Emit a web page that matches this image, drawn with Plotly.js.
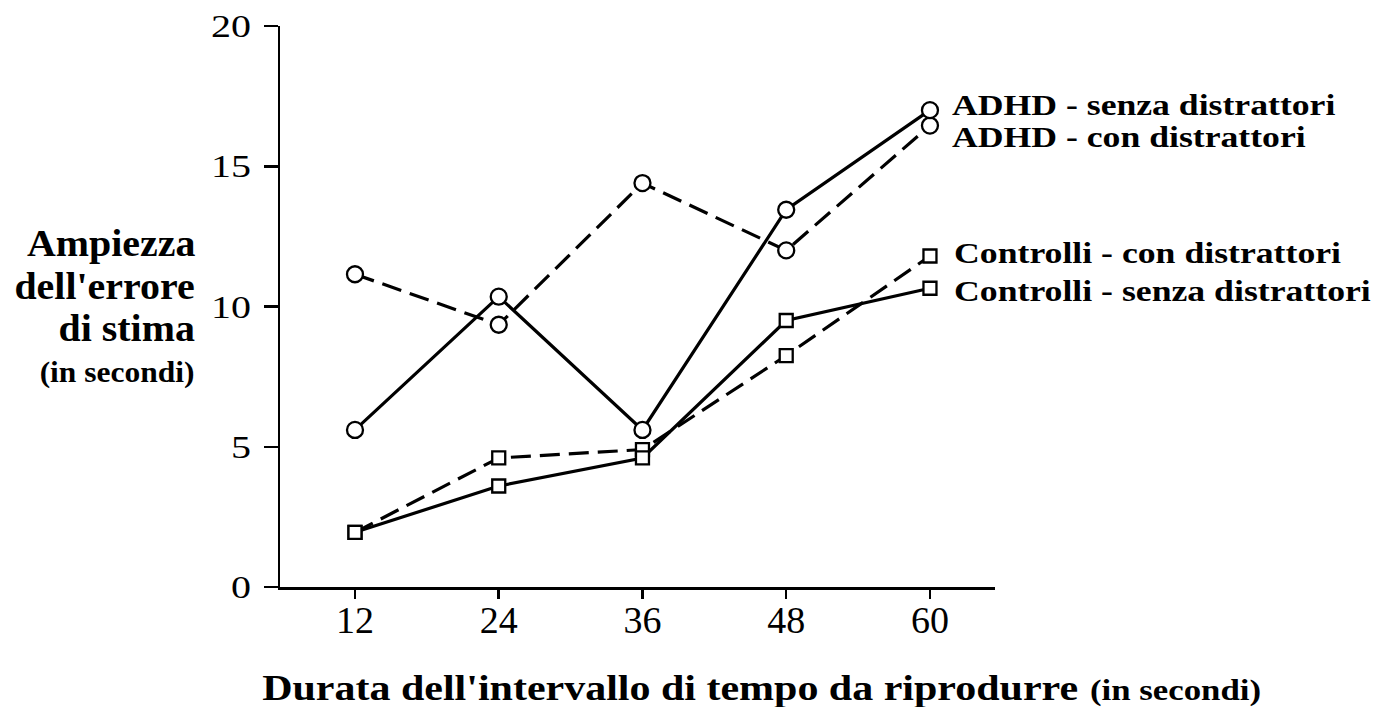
<!DOCTYPE html>
<html>
<head>
<meta charset="utf-8">
<script src="https://cdn.plot.ly/plotly-3.0.1.min.js"></script>
<style>html,body{margin:0;padding:0;background:#fff;}#chart{width:1383px;height:707px;}</style>
</head>
<body>
<div id="chart"></div>
<script>
const durations = [12, 24, 36, 48, 60];
const adhdSenza = [5.6, 10.35, 5.6, 13.45, 17.0];
const adhdCon = [11.15, 9.35, 14.4, 12.0, 16.45];
const ctrlCon = [1.95, 4.6, 4.9, 8.25, 11.8];
const ctrlSenza = [1.95, 3.6, 4.6, 9.5, 10.65];
const seriesNames = ["ADHD - senza distrattori", "ADHD - con distrattori", "Controlli - con distrattori", "Controlli - senza distrattori"];
const yTitleLines = ["Ampiezza", "dell'errore", "di stima"];
const yTitleUnit = "(in secondi)";
const xTitleMain = "Durata dell'intervallo di tempo da riprodurre";
const xTitleUnit = "(in secondi)";

const serif = "Liberation Serif, Times New Roman, serif";
function trace(y, name, dash, symbol, size) {
  return {
    x: durations, y: y, name: name, type: "scatter", mode: "lines+markers",
    line: {color: "#000", width: 3.2, dash: dash},
    marker: {symbol: symbol, size: size, color: "#fff", line: {color: "#000", width: 2.3}},
    cliponaxis: false
  };
}
const data = [
  trace(adhdCon, seriesNames[1], "20px,9px", "circle", 16),
  trace(adhdSenza, seriesNames[0], "solid", "circle", 16),
  trace(ctrlCon, seriesNames[2], "20px,9px", "square", 13),
  trace(ctrlSenza, seriesNames[3], "solid", "square", 13)
];

const L = 280, R = 995, T = 26, B = 587;
const W = 1383, H = 707;
function px(x) { return (x - L) / (R - L); }
function py(y) { return (B - y) / (B - T); }
const boldFont = (s) => ({family: serif, size: s, color: "#000", weight: "bold"});

// each annotation: [text, xpx, ypx, xanchor, fontSize, horizontal stretch]
const annSpecs = [
  [seriesNames[0], 950, 105, "left", 29, 1.23],
  [seriesNames[1], 950, 137, "left", 29, 1.23],
  [seriesNames[2], 952, 252, "left", 30, 1.19],
  [seriesNames[3], 952, 290, "left", 30, 1.19],
  [yTitleLines[0], 197, 243, "right", 38, 1.05],
  [yTitleLines[1], 197, 286, "right", 38, 1.05],
  [yTitleLines[2], 197, 328, "right", 38, 1.05],
  [yTitleUnit, 197, 372, "right", 30, 1.05],
  [xTitleMain, 260, 688, "left", 35, 1.2],
  [xTitleUnit, 1088, 690, "left", 29, 1.2]
];
const annotations = annSpecs.map(s => ({
  text: "<b>" + s[0] + "</b>", xref: "paper", yref: "paper", x: px(s[1]), y: py(s[2]),
  xanchor: s[3], yanchor: "middle", showarrow: false, font: boldFont(s[4])
}));

const layout = {
  width: W, height: H,
  margin: {l: L, r: W - R, t: T, b: H - B, pad: 0},
  paper_bgcolor: "#fff", plot_bgcolor: "#fff",
  showlegend: false,
  font: {family: serif, color: "#000"},
  xaxis: {
    range: [5.74, 65.43], tickvals: durations, ticktext: durations.map(String),
    showgrid: false, zeroline: false, showline: true, linecolor: "#000", linewidth: 2.5,
    ticks: "outside", ticklen: 9, tickwidth: 2.5, tickcolor: "#000",
    tickfont: {family: serif, size: 38, color: "#000"}, fixedrange: true
  },
  yaxis: {
    range: [0, 20], tickvals: [0, 5, 10, 15, 20],
    showgrid: false, zeroline: false, showline: true, linecolor: "#000", linewidth: 2.5,
    ticks: "outside", ticklen: 14, tickwidth: 2.5, tickcolor: "#000", ticklabelstandoff: 6,
    tickfont: {family: serif, size: 32, color: "#000"}, fixedrange: true
  },
  annotations: annotations
};

function stretch(el, s, mode) {
  const bb = el.getBBox();
  const a = mode === "left" ? bb.x : (mode === "right" ? bb.x + bb.width : bb.x + bb.width / 2);
  const prev = el.getAttribute("transform") || "";
  el.setAttribute("transform", prev + " translate(" + a + ",0) scale(" + s + ",1) translate(" + (-a) + ",0)");
}

Plotly.newPlot("chart", data, layout, {displayModeBar: false, staticPlot: true}).then(gd => {
  annSpecs.forEach((s, i) => {
    const t = gd.querySelector('g.annotation[data-index="' + i + '"] text.annotation-text');
    if (t) stretch(t, s[5], s[3]);
  });
  gd.querySelectorAll("g.ytick text").forEach(t => stretch(t, 1.25, "right"));
  gd.querySelectorAll("g.xtick text").forEach(t => {
    const prev = t.getAttribute("transform") || "";
    t.setAttribute("transform", prev + " translate(0,-11)");
  });
});
</script>
</body>
</html>
